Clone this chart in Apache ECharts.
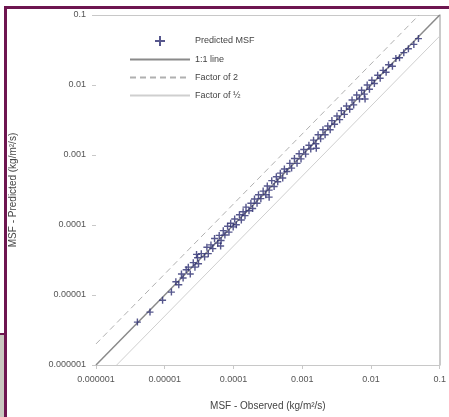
<!DOCTYPE html>
<html>
<head>
<meta charset="utf-8">
<script src="https://cdn.jsdelivr.net/npm/echarts@6/dist/echarts.min.js"></script>
<style>
  html, body { margin: 0; padding: 0; background: #fff; }
  #wrap { position: relative; width: 449px; height: 417px; overflow: hidden; }
  #myChart { position: absolute; left: 0; top: 0; width: 449px; height: 417px; }
  .frameTop { position: absolute; left: 4px; top: 6px; width: 445px; height: 3px; background: #6e1650; }
  .frameLeft { position: absolute; left: 4px; top: 6px; width: 3px; height: 411px; background: #6e1650; }
  .sideStrip { position: absolute; left: 0; top: 333px; width: 4px; height: 84px; background: #c9c8c0; border-top: 2px solid #6e1650; }
</style>
</head>
<body>
<div id="wrap">
  <div id="myChart"></div>
  <div class="frameTop"></div>
  <div class="frameLeft"></div>
  <div class="sideStrip"></div>
</div>
<script>
// tick labels, one per decade from 1e-6 to 0.1
const tickLabels = ["0.000001", "0.00001", "0.0001", "0.001", "0.01", "0.1"];

// MSF observed vs predicted (kg/m2/s)
const observed = [
  4.0e-6, 6.1e-6, 9.3e-6, 1.25e-5, 1.45e-5, 1.6e-5, 1.75e-5, 1.85e-5, 2.05e-5, 2.2e-5,
  2.35e-5, 2.6e-5, 2.75e-5, 3.0e-5, 3.1e-5, 3.4e-5, 3.8e-5, 4.1e-5, 4.3e-5, 4.7e-5,
  5.0e-5, 5.3e-5, 5.9e-5, 6.2e-5, 6.6e-5, 7.1e-5, 7.5e-5, 8.2e-5, 8.6e-5, 9.1e-5,
  9.9e-5, 1.04e-4, 1.1e-4, 1.22e-4, 1.3e-4, 1.38e-4, 1.47e-4, 1.52e-4, 1.68e-4, 1.79e-4,
  1.9e-4, 2.02e-4, 2.2e-4, 2.31e-4, 2.5e-4, 2.7e-4, 2.95e-4, 3.1e-4, 3.3e-4, 3.6e-4,
  3.9e-4, 4.2e-4, 4.4e-4, 4.8e-4, 5.2e-4, 5.5e-4, 6.0e-4, 6.6e-4, 7.0e-4, 7.7e-4,
  8.4e-4, 9.0e-4, 9.6e-4, 1.05e-3, 1.12e-3, 1.25e-3, 1.33e-3, 1.46e-3, 1.58e-3, 1.7e-3,
  1.85e-3, 2.0e-3, 2.15e-3, 2.35e-3, 2.55e-3, 2.7e-3, 2.95e-3, 3.2e-3, 3.5e-3, 3.7e-3,
  4.1e-3, 4.4e-3, 4.9e-3, 5.3e-3, 5.6e-3, 6.2e-3, 6.8e-3, 7.3e-3, 8.0e-3, 8.8e-3,
  9.5e-3, 1.03e-2, 1.12e-2, 1.25e-2, 1.36e-2, 1.5e-2, 1.66e-2, 1.8e-2, 2.05e-2, 2.3e-2,
  2.6e-2, 3.0e-2, 3.5e-2, 4.2e-2, 4.9e-2, 3.3e-4, 1.6e-3, 6.5e-5, 8.2e-3, 2.9e-5
];
const predicted = [
  4.1e-6, 5.7e-6, 8.4e-6, 1.1e-5, 1.55e-5, 1.4e-5, 2.0e-5, 1.75e-5, 2.3e-5, 2.5e-5,
  2.0e-5, 2.9e-5, 2.5e-5, 3.4e-5, 2.8e-5, 3.9e-5, 3.5e-5, 4.8e-5, 3.9e-5, 5.2e-5,
  4.6e-5, 6.4e-5, 5.5e-5, 7.1e-5, 6.0e-5, 8.3e-5, 7.2e-5, 9.6e-5, 7.9e-5, 1.06e-4,
  9.4e-5, 1.22e-4, 1.01e-4, 1.4e-4, 1.18e-4, 1.55e-4, 1.36e-4, 1.8e-4, 1.6e-4, 2.05e-4,
  1.72e-4, 2.35e-4, 2.05e-4, 2.7e-4, 2.38e-4, 3.05e-4, 2.7e-4, 3.6e-4, 3.15e-4, 4.3e-4,
  3.55e-4, 4.9e-4, 4.15e-4, 5.5e-4, 4.7e-4, 6.3e-4, 5.8e-4, 7.6e-4, 6.5e-4, 8.9e-4,
  7.6e-4, 1.04e-3, 8.8e-4, 1.2e-3, 1.03e-3, 1.38e-3, 1.22e-3, 1.63e-3, 1.45e-3, 1.95e-3,
  1.7e-3, 2.3e-3, 1.95e-3, 2.6e-3, 2.3e-3, 3.1e-3, 2.75e-3, 3.6e-3, 3.2e-3, 4.3e-3,
  3.8e-3, 5.0e-3, 4.5e-3, 6.1e-3, 5.2e-3, 7.2e-3, 6.3e-3, 8.4e-3, 7.4e-3, 1.0e-2,
  8.7e-3, 1.17e-2, 1.05e-2, 1.38e-2, 1.25e-2, 1.62e-2, 1.52e-2, 1.95e-2, 1.85e-2, 2.4e-2,
  2.45e-2, 2.9e-2, 3.3e-2, 3.8e-2, 4.6e-2, 2.5e-4, 1.25e-3, 5.0e-5, 6.3e-3, 3.8e-5
];

// reference lines (start and end points)
const oneToOne = [[1e-6, 1e-6], [0.1, 0.1]];
const factorTwo = [[1e-6, 2e-6], [0.05, 0.1]];
const factorHalf = [[2e-6, 1e-6], [0.1, 0.05]];

const points = observed.map((v, i) => [v, predicted[i]]);

function decadeLabel(v) {
  const k = Math.round(Math.log10(v)) + 6;
  return tickLabels[k] || "";
}

const labelFont = { color: "#555", fontSize: 9, fontFamily: "Liberation Sans" };
const noDot = { itemStyle: { opacity: 0 } };

const myChart = echarts.init(document.getElementById("myChart"));
myChart.setOption({
  animation: false,
  textStyle: { fontFamily: "Liberation Sans" },
  grid: { left: 95, right: 6, top: 15, bottom: 52 },
  legend: {
    orient: "vertical",
    left: 124,
    top: 31,
    itemWidth: 60,
    itemHeight: 10,
    itemGap: 9,
    textStyle: { color: "#444", fontSize: 9, fontFamily: "Liberation Sans" },
    data: [
      { name: "Predicted MSF" },
      Object.assign({ name: "1:1 line" }, noDot),
      Object.assign({ name: "Factor of 2" }, noDot),
      Object.assign({ name: "Factor of ½" }, noDot),
    ],
  },
  xAxis: [
    {
      type: "log",
      logBase: 10,
      min: 1e-6,
      max: 0.1,
      name: "MSF - Observed (kg/m²/s)",
      nameLocation: "middle",
      nameGap: 36,
      nameTextStyle: { color: "#444", fontSize: 10, fontFamily: "Liberation Sans" },
      axisLine: { lineStyle: { color: "#c8c8c8" } },
      axisTick: { length: 4, lineStyle: { color: "#c8c8c8" } },
      axisLabel: Object.assign({ margin: 10, formatter: decadeLabel }, labelFont),
      splitLine: { show: false },
    },
    {
      type: "log",
      logBase: 10,
      min: 1e-6,
      max: 0.1,
      position: "top",
      axisLine: { show: true, lineStyle: { color: "#c8c8c8" } },
      axisTick: { show: false },
      axisLabel: { show: false },
      splitLine: { show: false },
    },
  ],
  yAxis: [
    {
      type: "log",
      logBase: 10,
      min: 1e-6,
      max: 0.1,
      name: "MSF - Predicted (kg/m²/s)",
      nameLocation: "middle",
      nameGap: 78,
      nameTextStyle: { color: "#444", fontSize: 10, fontFamily: "Liberation Sans" },
      axisLine: { show: false },
      axisTick: { show: true, length: 4, lineStyle: { color: "#c8c8c8" } },
      axisLabel: Object.assign({ margin: 10, formatter: decadeLabel }, labelFont),
      splitLine: { show: false },
    },
    {
      type: "log",
      logBase: 10,
      min: 1e-6,
      max: 0.1,
      position: "right",
      axisLine: { show: true, lineStyle: { color: "#b8b8b8", width: 1.5 } },
      axisTick: { show: false },
      axisLabel: { show: false },
      splitLine: { show: false },
    },
  ],
  series: [
    {
      name: "1:1 line",
      type: "line",
      data: oneToOne,
      symbol: "none",
      itemStyle: { color: "#8a8a8a" },
      lineStyle: { color: "#8a8a8a", width: 1.5 },
      z: 1,
    },
    {
      name: "Factor of 2",
      type: "line",
      data: factorTwo,
      symbol: "none",
      itemStyle: { color: "#b0b0b0" },
      lineStyle: { color: "#b0b0b0", width: 1, type: [6, 4] },
      z: 1,
    },
    {
      name: "Factor of ½",
      type: "line",
      data: factorHalf,
      symbol: "none",
      itemStyle: { color: "#cfcfcf" },
      lineStyle: { color: "#cfcfcf", width: 1 },
      z: 1,
    },
    {
      name: "Predicted MSF",
      type: "scatter",
      data: points,
      symbol: "path://M4,0h2v4h4v2h-4v4h-2v-4h-4v-2h4z",
      symbolKeepAspect: true,
      symbolSize: 7,
      itemStyle: { color: "#2c2d70", opacity: 0.8 },
      z: 3,
    },
  ],
});
</script>
</body>
</html>
